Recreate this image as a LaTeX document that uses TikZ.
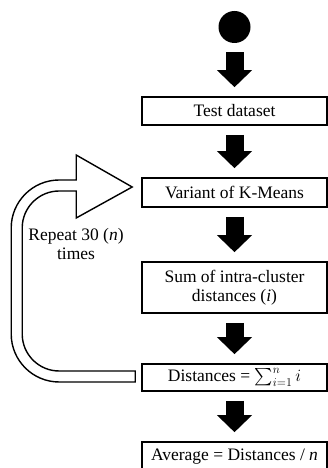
\documentclass[tikz,border=0pt]{standalone}
\usepackage{amsmath}
\usepackage{fontspec}
\setmainfont{Liberation Serif}
\usetikzlibrary{arrows.meta, calc}

\tikzset{
  flowbox/.style={draw, line width=1.6pt, minimum width=185pt, align=center, inner sep=2pt},
  flowarrow/.style={line width=18pt, -{Triangle[width=34pt, length=17pt]}, shorten <=9pt, shorten >=9pt},
  loopline/.style={draw, line width=1.4pt, fill=white},
}

\begin{document}
\begin{tikzpicture}[x=1pt, y=1pt, font=\fontsize{17.5}{19}\selectfont]
    \useasboundingbox (0,0) rectangle (328,468);
    \node [circle, fill=black, minimum size=32pt, inner sep=0pt] (start) at (234.5,441) {};
    \node [flowbox, minimum height=28pt] (test) at (234.5,357) {Test dataset};
    \node [flowbox, minimum height=29pt] (kmeans) at (234.5,275.5) {Variant of K-Means};
    \node [flowbox, minimum height=51pt] (intra) at (234.5,180.5) {Sum of intra-cluster\\distances (\textit{i})};
    \node [flowbox, minimum height=27pt] (dist) at (234.5,90.5) {Distances = $\sum_{i=1}^{n} i$};
    \node [flowbox, minimum height=30pt] (avg) at (234.5,11) {Average = Distances / \textit{n}};

    \draw [flowarrow] (start) -- (test);
    \draw [flowarrow] (test) -- (kmeans);
    \draw [flowarrow] (kmeans) -- (intra);
    \draw [flowarrow] (intra) -- (dist);
    \draw [flowarrow] (dist) -- (avg);

    % hollow loop arrow back to the k-means step
    \coordinate (tail) at ([xshift=-6pt, yshift=-4.5pt]dist.west);
    \coordinate (tip) at ([xshift=-9pt, yshift=5.5pt]kmeans.west);
    \draw [loopline] (tail) -- ++(-76,0) arc [start angle=270, end angle=180, radius=48]
        -- ++(0,106) arc [start angle=180, end angle=90, radius=48]
        -- ++(17,0) -- ++(0,25) -- (tip) -- ++(-56,-31) -- ++(0,27) -- ++(-17,0)
        arc [start angle=90, end angle=180, radius=37] -- ++(0,-106)
        arc [start angle=180, end angle=270, radius=37] -- ++(76,0) -- cycle;
    \node [align=center] (repeat) at (76,224) {Repeat 30 (\textit{n})\\times};
\end{tikzpicture}
\end{document}
